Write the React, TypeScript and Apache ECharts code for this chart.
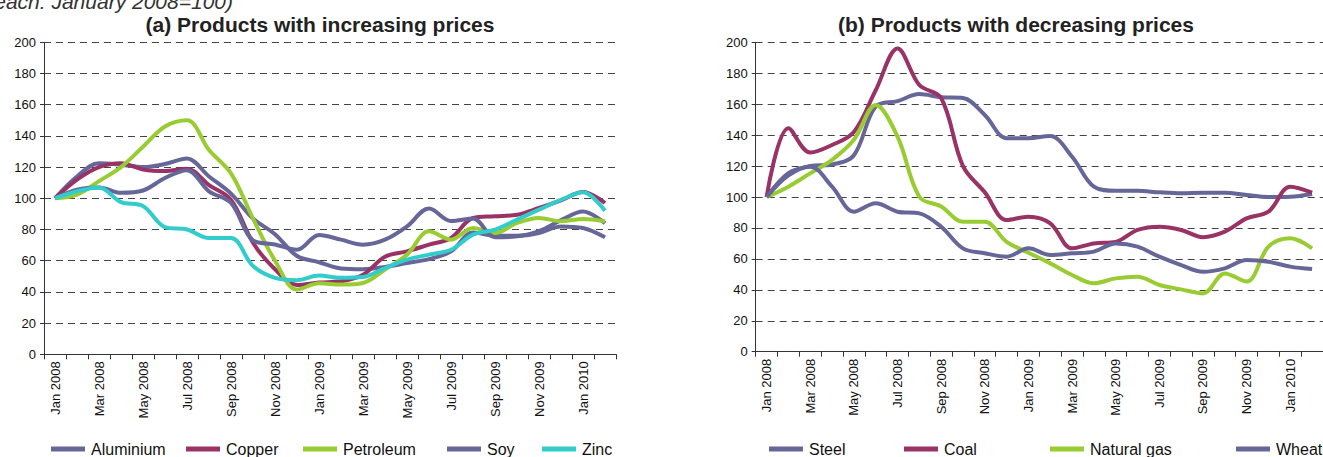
import React, { useEffect, useRef } from "react";
import * as echarts from "echarts";

const months = [
  "Jan 2008", "Feb 2008", "Mar 2008", "Apr 2008", "May 2008", "Jun 2008", "Jul 2008", "Aug 2008",
  "Sep 2008", "Oct 2008", "Nov 2008", "Dec 2008", "Jan 2009", "Feb 2009", "Mar 2009", "Apr 2009",
  "May 2009", "Jun 2009", "Jul 2009", "Aug 2009", "Sep 2009", "Oct 2009", "Nov 2009", "Dec 2009",
  "Jan 2010", "Feb 2010",
];

// (a) Products with increasing prices
const aluminium = [100, 114, 122.5, 121.5, 120, 122, 125.5, 114, 103, 87, 77, 63, 59, 55, 54.5, 56, 58.5, 61, 66, 78, 76, 76, 79, 86, 91.5, 84];
const copper = [100, 112, 120, 122.5, 118.5, 117.5, 119, 108.5, 99, 71.5, 54.5, 44.5, 46, 46.8, 51, 62.5, 66, 70.3, 74.6, 87.4, 88.5, 89.5, 93.8, 98.7, 104, 97];
const petroleum = [100, 102.3, 111, 120, 133, 146, 150, 131, 116, 87, 60, 41.5, 45.5, 44.7, 45.7, 54.3, 63.9, 78.8, 73.5, 81, 77.8, 84.2, 87.4, 85.3, 86.8, 85.3];
const soy = [100, 105.5, 107, 103.5, 105, 113, 118, 104.5, 97, 73, 70.4, 67, 76.5, 73.5, 70.3, 73.5, 82, 93.5, 85.5, 87, 75, 75.6, 77.8, 82, 81, 75];
const zinc = [100, 104.5, 107, 97.5, 95, 81.5, 80, 74.5, 74.5, 56.6, 49, 47.5, 50.5, 49, 49.5, 55.3, 60.7, 63.9, 67, 76.7, 79.9, 86.3, 92.7, 99, 103.8, 92];

// (b) Products with decreasing prices
const steel = [100, 115.5, 120, 121, 127, 158.5, 162, 166.5, 164.5, 164, 153, 138, 138, 139.4, 126, 106.7, 104, 104, 103, 102.4, 102.8, 102.8, 101.3, 100, 100.2, 102];
const coal = [100, 144.5, 128.7, 133.6, 142, 169, 196, 172.4, 164, 120, 103, 85.1, 87.3, 83, 66.8, 70, 71, 78.7, 80.8, 78.7, 74, 77.6, 86.2, 90.5, 106.7, 102.8];
const naturalGas = [100, 106.7, 115.3, 124, 137, 159.5, 139, 100.2, 93.8, 84, 84, 71, 64, 57.1, 49.6, 44.2, 47.4, 48.5, 43.1, 40.3, 37.7, 50.6, 45.3, 67.9, 73.3, 66.8];
const wheat = [100, 114, 119.6, 106.7, 90.5, 95.9, 90.5, 89.4, 80.8, 66.8, 63.6, 61.4, 66.8, 62.5, 63.6, 64.7, 70, 67.9, 61.4, 56, 51.7, 53.9, 59.3, 58.2, 55, 53.4];

const titleA = "(a) Products with increasing prices";
const titleB = "(b) Products with decreasing prices";
const caption = "(Index for each: January 2008=100)";

const BLUE = "#666699";
const MAROON = "#993366";
const GREEN = "#99cc33";
const CYAN = "#33cccc";
const FONT = "'Liberation Sans', Arial, Helvetica, sans-serif";

export default function App() {
  const ref = useRef<HTMLDivElement>(null);

  useEffect(() => {
    if (!ref.current) return;
    const chart = echarts.init(ref.current, undefined, { renderer: "svg" });

    const xAxisBase = (gridIndex: number) => ({
      type: "category",
      gridIndex,
      data: months,
      boundaryGap: true,
      axisLine: { show: true, lineStyle: { color: "#333", width: 1 } },
      axisTick: { show: true, interval: 0, length: 5, lineStyle: { color: "#333" } },
      axisLabel: {
        interval: 1,
        rotate: 90,
        fontSize: 13,
        fontFamily: FONT,
        color: "#111",
        margin: 7,
      },
      splitLine: { show: false },
    });
    const yAxisBase = (gridIndex: number) => ({
      type: "value",
      gridIndex,
      min: 0,
      max: 200,
      interval: 20,
      axisLine: { show: true, lineStyle: { color: "#333", width: 1 } },
      axisTick: { show: true, length: 4, lineStyle: { color: "#333" } },
      axisLabel: { fontSize: 13, fontFamily: FONT, color: "#111", margin: 8 },
      splitLine: { show: true, lineStyle: { color: "#444", type: [7, 5], width: 1 } },
    });

    const line = (name: string, data: number[], color: string, idx: number) => ({
      name,
      type: "line",
      xAxisIndex: idx,
      yAxisIndex: idx,
      data,
      smooth: 0.35,
      showSymbol: false,
      symbol: "none",
      color,
      lineStyle: { color, width: 4 },
    });

    const legendItem = (name: string, left: number) => ({
      data: [{ name, icon: "rect" }],
      left,
      top: 441,
      padding: 0,
      itemWidth: 34,
      itemHeight: 5,
      textStyle: { fontSize: 16, fontFamily: FONT, color: "#111", padding: [0, 0, 0, 1] },
    });

    chart.setOption({
      animation: false,
      backgroundColor: "#fff",
      title: [
        {
          text: titleA,
          left: 315,
          top: 9,
          textAlign: "center",
          textStyle: { fontSize: 21, fontWeight: "bold", fontFamily: FONT, color: "#222" },
        },
        {
          text: titleB,
          left: 1011,
          top: 9,
          textAlign: "center",
          textStyle: { fontSize: 21, fontWeight: "bold", fontFamily: FONT, color: "#222" },
        },
      ],
      graphic: [
        {
          type: "text",
          x: 233,
          y: 12,
          style: {
            text: caption,
            fontSize: 21,
            fontStyle: "italic",
            fontFamily: FONT,
            fill: "#333",
            textAlign: "right",
            textVerticalAlign: "bottom",
          },
        },
      ],
      grid: [
        { left: 44, top: 42.3, width: 572, height: 312 },
        { left: 755.7, top: 42.3, width: 572, height: 309.4 },
      ],
      xAxis: [xAxisBase(0), xAxisBase(1)],
      yAxis: [yAxisBase(0), yAxisBase(1)],
      legend: [
        legendItem("Aluminium", 51),
        legendItem("Copper", 186),
        legendItem("Petroleum", 303),
        legendItem("Soy", 447),
        legendItem("Zinc", 542),
        legendItem("Steel", 769),
        legendItem("Coal", 904),
        legendItem("Natural gas", 1050),
        legendItem("Wheat", 1236),
      ],
      series: [
        line("Aluminium", aluminium, BLUE, 0),
        line("Copper", copper, MAROON, 0),
        line("Petroleum", petroleum, GREEN, 0),
        line("Soy", soy, BLUE, 0),
        line("Zinc", zinc, CYAN, 0),
        line("Steel", steel, BLUE, 1),
        line("Coal", coal, MAROON, 1),
        line("Natural gas", naturalGas, GREEN, 1),
        line("Wheat", wheat, BLUE, 1),
      ],
    });

    return () => chart.dispose();
  }, []);

  return (
    <div
      ref={ref}
      style={{ position: "fixed", left: 0, top: 0, width: 1323, height: 457, background: "#fff" }}
    />
  );
}
